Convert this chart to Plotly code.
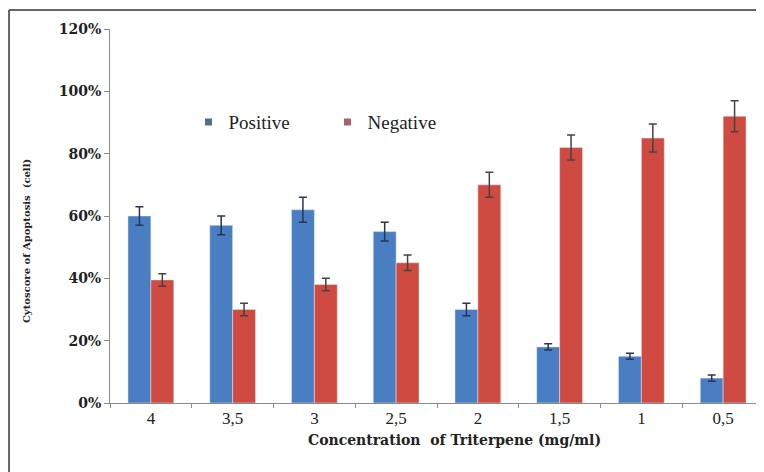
import plotly.graph_objects as go

categories = ["4", "3,5", "3", "2,5", "2", "1,5", "1", "0,5"]
positive = [0.60, 0.57, 0.62, 0.55, 0.30, 0.18, 0.15, 0.08]
negative = [0.395, 0.30, 0.38, 0.45, 0.70, 0.82, 0.85, 0.92]
positive_err = [0.03, 0.03, 0.04, 0.03, 0.02, 0.01, 0.01, 0.01]
negative_err = [0.02, 0.02, 0.02, 0.025, 0.04, 0.04, 0.045, 0.05]

SERIF_B = "DejaVu Serif"
SERIF = "Liberation Serif"
BLUE = "#4a7ec2"
RED = "#cf4a40"
TXT = "#222222"

fig = go.Figure()
fig.add_trace(go.Bar(
    x=categories, y=positive, name="Positive", marker_color=BLUE, showlegend=False,
    error_y=dict(type="data", array=positive_err, visible=True, color="#2a3550", thickness=1.5, width=4),
))
fig.add_trace(go.Bar(
    x=categories, y=negative, name="Negative", marker_color=RED, showlegend=False,
    error_y=dict(type="data", array=negative_err, visible=True, color="#444444", thickness=1.5, width=4),
))
# legend entries with small square swatches
fig.add_trace(go.Scatter(x=[None], y=[None], mode="markers", name="Positive",
                         marker=dict(symbol="square", size=7, color="#4f6f95")))
fig.add_trace(go.Scatter(x=[None], y=[None], mode="markers", name="Negative",
                         marker=dict(symbol="square", size=7, color="#a8636a")))

fig.update_layout(
    width=764, height=472,
    margin=dict(l=102, r=8, t=21, b=77),
    paper_bgcolor="white", plot_bgcolor="white",
    barmode="group", bargap=0.44, bargroupgap=0,
    font=dict(family=SERIF, color=TXT),
    showlegend=True,
    legend=dict(orientation="h", x=0.12, y=0.751, xanchor="left", yanchor="middle",
                font=dict(family=SERIF, size=19, color=TXT), bgcolor="rgba(0,0,0,0)",
                itemwidth=30, entrywidth=94, entrywidthmode="pixels"),
    xaxis=dict(
        showline=True, linecolor="#8a8a8a", linewidth=1,
        ticks="outside", tickson="boundaries", ticklen=4, tickcolor="#8a8a8a",
        tickfont=dict(family=SERIF, size=17, color=TXT),
        showgrid=False,
    ),
    yaxis=dict(
        range=[0, 1.2], dtick=0.2, tickformat=".0%",
        showline=True, linecolor="#8a8a8a", linewidth=1,
        ticks="outside", ticklen=5, tickcolor="#8a8a8a",
        tickfont=dict(family=SERIF_B, size=14, color=TXT),
        showgrid=False, zeroline=False,
    ),
    annotations=[
        dict(text="<b>Concentration  of Triterpene (mg/ml)</b>", xref="paper", yref="paper",
             x=0.526, y=-0.099, xanchor="center", yanchor="middle", showarrow=False,
             font=dict(family=SERIF_B, size=14, color=TXT)),
        dict(text="<b>Cytoscore of Apoptosis  (cell)</b>", xref="paper", yref="paper",
             x=-0.1284, y=0.433, xanchor="center", yanchor="middle", showarrow=False, textangle=-90,
             font=dict(family=SERIF_B, size=10, color=TXT)),
    ],
    shapes=[
        dict(type="line", xref="paper", yref="paper", x0=-0.1544, x1=1.02, y0=1.0508, y1=1.0508, line=dict(color="#333333", width=1.5)),
        dict(type="line", xref="paper", yref="paper", x0=-0.1544, x1=-0.1544, y0=1.0508, y1=-0.3, line=dict(color="#333333", width=1.5)),
    ],
)
fig.update_yaxes(tickprefix="<b>", ticksuffix="</b>")

fig.write_html("out.html")
